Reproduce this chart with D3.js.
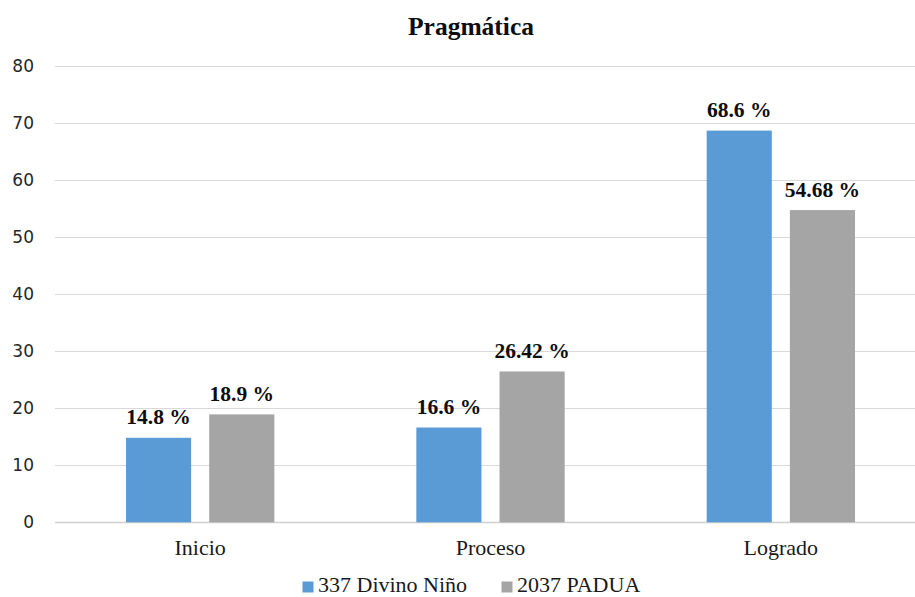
<!DOCTYPE html>
<html>
<head>
  <meta charset="utf-8">
  <title>Pragmática</title>
  <style>
    body { margin: 0; background: #fff; }
    .tick-label { font-family: "DejaVu Sans", sans-serif; font-size: 17px; fill: #262626; }
    .cat-label { font-family: "Liberation Serif", "Times New Roman", serif; font-size: 22px; fill: #1a1a1a; }
    .val-label { font-family: "Liberation Serif", "Times New Roman", serif; font-size: 21.5px; font-weight: bold; fill: #0d0d0d; }
    .legend-label { font-family: "Liberation Serif", "Times New Roman", serif; font-size: 22px; fill: #1a1a1a; }
  </style>
</head>
<body>
  <script src="https://d3js.org/d3.v7.min.js"></script>
  <script>
    // chart data
    const categories = ["Inicio", "Proceso", "Logrado"];
    const seriesNames = ["337 Divino Niño", "2037 PADUA"];
    const divinoNino = [14.8, 16.6, 68.6];
    const padua = [18.9, 26.42, 54.68];
    const valueLabels = [["14.8 %", "16.6 %", "68.6 %"], ["18.9 %", "26.42 %", "54.68 %"]];
    const yTicks = [0, 10, 20, 30, 40, 50, 60, 70, 80];
    const colors = ["#5B9BD5", "#A5A5A5"];

    const width = 915;
    const height = 597;

    const svg = d3.select('body')
      .append('svg')
      .attr('width', width)
      .attr('height', height);

    const y = d3.scaleLinear()
      .domain([0, 80])
      .range([522.3, 65.5]);

    const x0 = d3.scaleBand()
      .domain(categories)
      .range([55, 926]);

    const groupOffset = 71;
    const x1 = d3.scaleBand()
      .domain(seriesNames)
      .range([groupOffset, x0.bandwidth() - groupOffset])
      .paddingInner(0.217);

    // gridlines
    svg.append('g')
      .selectAll('line')
      .data(yTicks)
      .enter()
      .append('line')
      .attr('x1', 55)
      .attr('x2', width)
      .attr('y1', function(d) { return Math.round(y(d)) + 0.5; })
      .attr('y2', function(d) { return Math.round(y(d)) + 0.5; })
      .style('stroke', function(d) { return d === 0 ? '#d0d0d0' : '#d9d9d9'; })
      .style('stroke-width', function(d) { return d === 0 ? 1.5 : 1; });

    // y tick labels
    svg.append('g')
      .selectAll('text')
      .data(yTicks)
      .enter()
      .append('text')
      .attr('class', 'tick-label')
      .attr('x', 34)
      .attr('y', function(d) { return y(d); })
      .attr('dy', '0.36em')
      .attr('text-anchor', 'end')
      .text(function(d) { return d; });

    // bars
    const seriesData = [divinoNino, padua];
    seriesData.forEach(function(values, si) {
      const g = svg.append('g');
      g.selectAll('rect')
        .data(values)
        .enter()
        .append('rect')
        .attr('x', function(d, i) { return x0(categories[i]) + x1(seriesNames[si]); })
        .attr('y', function(d) { return y(d); })
        .attr('width', x1.bandwidth())
        .attr('height', function(d) { return y(0) - y(d); })
        .style('fill', colors[si]);

      g.selectAll('text')
        .data(values)
        .enter()
        .append('text')
        .attr('class', 'val-label')
        .attr('x', function(d, i) { return x0(categories[i]) + x1(seriesNames[si]) + x1.bandwidth() / 2; })
        .attr('y', function(d) { return y(d) - 13.5; })
        .attr('text-anchor', 'middle')
        .text(function(d, i) { return valueLabels[si][i]; });
    });

    // category labels
    svg.append('g')
      .selectAll('text')
      .data(categories)
      .enter()
      .append('text')
      .attr('class', 'cat-label')
      .attr('x', function(d) { return x0(d) + x0.bandwidth() / 2; })
      .attr('y', 555)
      .attr('text-anchor', 'middle')
      .text(function(d) { return d; });

    // title
    svg.append('text')
      .attr('x', 471)
      .attr('y', 35)
      .attr('text-anchor', 'middle')
      .style('font-family', '"Liberation Serif", "Times New Roman", serif')
      .style('font-size', '25.5px')
      .style('font-weight', 'bold')
      .style('fill', '#0d0d0d')
      .text('Pragmática');

    // legend
    const legendX = [302.5, 501.5];
    const legend = svg.append('g')
      .selectAll('g')
      .data(seriesNames)
      .enter()
      .append('g');

    legend.append('rect')
      .attr('x', function(d, i) { return legendX[i]; })
      .attr('y', 581.5)
      .attr('width', 11)
      .attr('height', 11)
      .style('fill', function(d, i) { return colors[i]; });

    legend.append('text')
      .attr('class', 'legend-label')
      .attr('x', function(d, i) { return legendX[i] + 15.5; })
      .attr('y', 592)
      .text(function(d) { return d; });
  </script>
</body>
</html>
